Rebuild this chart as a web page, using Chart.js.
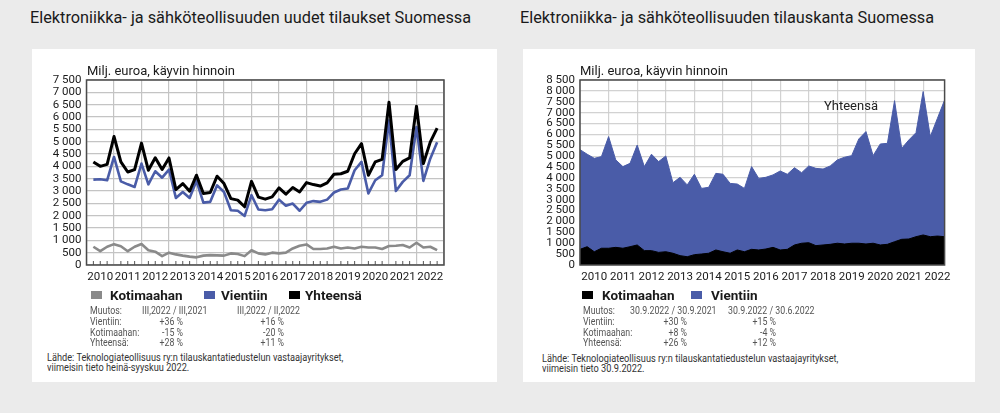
<!DOCTYPE html>
<html>
<head>
<meta charset="utf-8">
<script src="https://cdn.jsdelivr.net/npm/chart.js@4/dist/chart.umd.min.js"></script>
<style>
  body { margin: 0; width: 1000px; height: 413px; background: #ebebeb; overflow: hidden; position: relative; font-family: Roboto, sans-serif; }
  .title { position: absolute; top: 8px; font-size: 16.3px; line-height: 20px; color: #1a1a1a; white-space: nowrap; }
  .panel { position: absolute; top: 49px; height: 333px; background: #fff; }
  canvas { position: absolute; }
  .t { position: absolute; white-space: nowrap; }
  .unit { font-size: 13px; line-height: 14px; color: #1a1a1a; top: 64px; }
  .leg { font-size: 13.5px; line-height: 14px; font-weight: bold; color: #1a1a1a; top: 288px; }
  .box { position: absolute; width: 11px; height: 8px; top: 291px; }
  .tab { font-size: 10px; line-height: 11px; color: #555; transform: scaleX(0.88); transform-origin: 0 0; }
  .r { text-align: right; transform-origin: 100% 0; }
  .src { font-size: 10px; line-height: 10px; color: #333; transform: scaleX(0.92); transform-origin: 0 0; }
</style>
</head>
<body>
<div class="title" style="left:30px">Elektroniikka- ja sähköteollisuuden uudet tilaukset Suomessa</div>
<div class="title" style="left:520px">Elektroniikka- ja sähköteollisuuden tilauskanta Suomessa</div>
<div class="panel" style="left:32px;width:465px"></div>
<div class="panel" style="left:523px;width:452px"></div>

<canvas id="leftChart" width="420" height="234" style="left:36px;top:56px"></canvas>
<canvas id="rightChart" width="434" height="234" style="left:526px;top:56px"></canvas>

<div class="t unit" style="left:87px">Milj. euroa, käyvin hinnoin</div>
<div class="t unit" style="left:580px">Milj. euroa, käyvin hinnoin</div>
<div class="t" style="left:824px;top:99px;font-size:13px;line-height:14px;color:#222">Yhteensä</div>

<!-- left legend -->
<div class="box" style="left:91px;background:#8a8a8a"></div>
<div class="t leg" style="left:110px">Kotimaahan</div>
<div class="box" style="left:204px;background:#4a5ca8"></div>
<div class="t leg" style="left:221px">Vientiin</div>
<div class="box" style="left:289px;background:#000"></div>
<div class="t leg" style="left:305px">Yhteensä</div>

<!-- right legend -->
<div class="box" style="left:582px;background:#000"></div>
<div class="t leg" style="left:602px">Kotimaahan</div>
<div class="box" style="left:691px;background:#4a5ca8"></div>
<div class="t leg" style="left:711px">Vientiin</div>

<div id="tables"></div>

<div class="t src" style="left:47px;top:353px">Lähde: Teknologiateollisuus ry:n tilauskantatiedustelun vastaajayritykset,</div>
<div class="t src" style="left:47px;top:363px">viimeisin tieto heinä-syyskuu 2022.</div>
<div class="t src" style="left:542px;top:354px">Lähde: Teknologiateollisuus ry:n tilauskantatiedustelun vastaajayritykset,</div>
<div class="t src" style="left:542px;top:364px">viimeisin tieto 30.9.2022.</div>

<script>
// tick labels
const years = ['2010', '2011', '2012', '2013', '2014', '2015', '2016', '2017', '2018', '2019', '2020', '2021', '2022'];

// uudet tilaukset, quarters 2010Q1 .. 2022Q3
const orderQuarters = [
    '2010Q1', '2010Q2', '2010Q3', '2010Q4', '2011Q1', '2011Q2', '2011Q3', '2011Q4',
    '2012Q1', '2012Q2', '2012Q3', '2012Q4', '2013Q1', '2013Q2', '2013Q3', '2013Q4',
    '2014Q1', '2014Q2', '2014Q3', '2014Q4', '2015Q1', '2015Q2', '2015Q3', '2015Q4',
    '2016Q1', '2016Q2', '2016Q3', '2016Q4', '2017Q1', '2017Q2', '2017Q3', '2017Q4',
    '2018Q1', '2018Q2', '2018Q3', '2018Q4', '2019Q1', '2019Q2', '2019Q3', '2019Q4',
    '2020Q1', '2020Q2', '2020Q3', '2020Q4', '2021Q1', '2021Q2', '2021Q3', '2021Q4',
    '2022Q1', '2022Q2', '2022Q3'
];
const ordersTotal = [
    4180, 4000, 4080, 5210, 4180, 3770, 3870, 4940, 3840, 4350,
    3870, 4340, 3060, 3300, 2990, 3640, 2900, 2940, 3600, 3300,
    2690, 2630, 2360, 3390, 2750, 2670, 2760, 3125, 2870, 3140,
    2960, 3340, 3260, 3200, 3330, 3680, 3700, 3800, 4510, 4920,
    3640, 4180, 4280, 6600, 3870, 4200, 4340, 6440, 4110, 4980, 5550
];
const ordersExport = [
    3460, 3475, 3435, 4380, 3390, 3270, 3165, 4110, 3270, 3800,
    3540, 3870, 2720, 2960, 2720, 3410, 2530, 2560, 3230, 2960,
    2220, 2200, 1990, 2830, 2250, 2220, 2260, 2650, 2400, 2490,
    2200, 2520, 2590, 2560, 2650, 2940, 3060, 3100, 3840, 4180,
    2900, 3435, 3640, 5860, 3000, 3370, 3640, 5590, 3410, 4310, 4980
];
const ordersDomestic = [
    740, 560, 740, 845, 760, 560, 740, 850, 600, 540,
    360, 500, 430, 380, 340, 310, 380, 400, 390, 380,
    470, 445, 360, 600, 470, 430, 500, 470, 500, 670,
    780, 835, 650, 650, 670, 740, 670, 710, 670, 740,
    710, 710, 650, 770, 780, 810, 710, 900, 710, 740, 600
];

// tilauskanta, quarter ends 31.12.2009 .. 30.9.2022
const backlogQuarters = [
    '2009Q4', '2010Q1', '2010Q2', '2010Q3', '2010Q4', '2011Q1', '2011Q2', '2011Q3', '2011Q4',
    '2012Q1', '2012Q2', '2012Q3', '2012Q4', '2013Q1', '2013Q2', '2013Q3', '2013Q4',
    '2014Q1', '2014Q2', '2014Q3', '2014Q4', '2015Q1', '2015Q2', '2015Q3', '2015Q4',
    '2016Q1', '2016Q2', '2016Q3', '2016Q4', '2017Q1', '2017Q2', '2017Q3', '2017Q4',
    '2018Q1', '2018Q2', '2018Q3', '2018Q4', '2019Q1', '2019Q2', '2019Q3', '2019Q4',
    '2020Q1', '2020Q2', '2020Q3', '2020Q4', '2021Q1', '2021Q2', '2021Q3', '2021Q4',
    '2022Q1', '2022Q2', '2022Q3'
];
const backlogTotal = [
    5300, 5090, 4900, 4980, 5900, 4830, 4520, 4670, 5510, 4520,
    5090, 4750, 5010, 3780, 4030, 3680, 4170, 3520, 3570, 4210,
    4170, 3750, 3720, 3520, 4520, 3980, 4030, 4140, 4320, 4170,
    4470, 4240, 4550, 4440, 4410, 4550, 4830, 4950, 5025, 5790,
    6130, 5025, 5560, 5590, 7550, 5360, 5745, 6080, 7970, 5900,
    6740, 7580
];
const backlogDomestic = [
    720, 840, 610, 770, 770, 810, 770, 840, 920, 660,
    660, 580, 610, 540, 430, 380, 475, 505, 540, 690,
    610, 540, 690, 610, 720, 690, 735, 810, 690, 720,
    920, 1000, 1025, 890, 920, 950, 1000, 965, 1000, 1000,
    965, 1000, 920, 950, 1070, 1180, 1195, 1300, 1380, 1300,
    1330, 1300
];

// muutos-taulukot
const tableRows = ['Muutos:', 'Vientiin:', 'Kotimaahan:', 'Yhteensä:'];
const leftHeads = ['III,2022 / III,2021', 'III,2022 / II,2022'];
const leftCol1 = ['+36 %', '-15 %', '+28 %'];
const leftCol2 = ['+16 %', '-20 %', '+11 %'];
const rightHeads = ['30.9.2022 / 30.9.2021', '30.9.2022 / 30.6.2022'];
const rightCol1 = ['+30 %', '+8 %', '+26 %'];
const rightCol2 = ['+15 %', '-4 %', '+12 %'];

const BLUE = '#4a5ca8';
const GRAY = '#8a8a8a';
const tickFont = {family: 'Roboto, sans-serif', size: 11.5};

function qx(q) {
    return parseInt(q.slice(0, 4)) + parseInt(q.slice(5)) / 4;
}
function pts(quarters, values) {
    return quarters.map((q, i) => ({x: qx(q), y: values[i]}));
}
function fmt(v) {
    if (v >= 1000) return Math.floor(v / 1000) + ' ' + String(v % 1000).padStart(3, '0');
    return String(v);
}

const frame = {
    id: 'frame',
    afterDraw(chart, args, opts) {
        const a = chart.chartArea;
        const ctx = chart.ctx;
        ctx.save();
        if (opts.minor) {
            ctx.strokeStyle = '#555';
            ctx.lineWidth = 1;
            chart.scales.x.ticks.forEach(t => {
                if (t.value % 1 === 0) return;
                const px = chart.scales.x.getPixelForValue(t.value);
                ctx.beginPath();
                ctx.moveTo(px, a.bottom);
                ctx.lineTo(px, a.bottom - 4);
                ctx.stroke();
            });
        }
        ctx.strokeStyle = '#4a4a4a';
        ctx.lineWidth = 1.5;
        ctx.strokeRect(a.left, a.top, a.right - a.left, a.bottom - a.top);
        ctx.restore();
    }
};

function makeScales(xmax, ymax, yWidth, gridColor, z) {
    return {
        x: {
            type: 'linear', min: 2010, max: xmax, z: z,
            afterFit: s => { s.height = 25; },
            border: {display: false},
            grid: {
                drawTicks: false,
                color: c => (c.tick && c.tick.value % 1 === 0) ? gridColor : 'rgba(0,0,0,0)',
                lineWidth: 1.2
            },
            ticks: {
                stepSize: 0.25, maxTicksLimit: 200, autoSkip: false, maxRotation: 0,
                padding: 5, color: '#1a1a1a', font: tickFont,
                callback: v => (v % 1 === 0.5) ? years[Math.floor(v) - 2010] : ''
            }
        },
        y: {
            min: 0, max: ymax, z: z,
            afterFit: s => { s.width = yWidth; },
            border: {display: false},
            grid: {drawTicks: false, color: gridColor, lineWidth: 1.2},
            ticks: {
                stepSize: 500, autoSkip: false, padding: 5, color: '#1a1a1a', font: tickFont,
                callback: v => fmt(v)
            }
        }
    };
}

new Chart('leftChart', {
    type: 'line',
    data: {
        datasets: [{
            label: 'Yhteensä',
            data: pts(orderQuarters, ordersTotal),
            borderColor: '#000',
            borderWidth: 3
        }, {
            label: 'Vientiin',
            data: pts(orderQuarters, ordersExport),
            borderColor: BLUE,
            borderWidth: 2.6
        }, {
            label: 'Kotimaahan',
            data: pts(orderQuarters, ordersDomestic),
            borderColor: GRAY,
            borderWidth: 2.6
        }]
    },
    options: {
        responsive: false,
        animation: false,
        layout: {padding: {top: 24, right: 12, left: 0, bottom: 0}},
        elements: {point: {radius: 0}, line: {tension: 0, fill: false, borderJoinStyle: 'round'}},
        plugins: {legend: {display: false}, tooltip: {enabled: false}, frame: {minor: true}},
        scales: makeScales(2023, 7500, 50.5, '#c4c4c4', 0)
    },
    plugins: [frame]
});

new Chart('rightChart', {
    type: 'line',
    data: {
        datasets: [{
            label: 'Kotimaahan',
            data: pts(backlogQuarters, backlogDomestic),
            borderColor: '#000',
            backgroundColor: '#000',
            borderWidth: 1,
            fill: 'origin'
        }, {
            label: 'Yhteensä',
            data: pts(backlogQuarters, backlogTotal),
            borderColor: BLUE,
            backgroundColor: BLUE,
            borderWidth: 1,
            fill: 'origin'
        }]
    },
    options: {
        responsive: false,
        animation: false,
        layout: {padding: {top: 24, right: 15.4, left: 0, bottom: 0}},
        elements: {point: {radius: 0}, line: {tension: 0, borderJoinStyle: 'round'}},
        plugins: {legend: {display: false}, tooltip: {enabled: false}, frame: {minor: false}},
        scales: makeScales(2022.75, 8500, 54, 'rgba(205,205,205,0.9)', 1)
    },
    plugins: [frame]
});

// muutos tables as html text
function addTable(x0, heads, h1, h2, r1, r2, col1, col2) {
    const box = document.getElementById('tables');
    const rowY = [305, 316, 327, 337];
    let html = '';
    tableRows.forEach((r, i) => {
        html += `<div class="t tab" style="left:${x0}px;top:${rowY[i]}px">${r}</div>`;
    });
    html += `<div class="t tab" style="left:${h1}px;top:${rowY[0]}px">${heads[0]}</div>`;
    html += `<div class="t tab" style="left:${h2}px;top:${rowY[0]}px">${heads[1]}</div>`;
    col1.forEach((v, i) => {
        html += `<div class="t tab r" style="left:${r1 - 60}px;width:60px;top:${rowY[i + 1]}px">${v}</div>`;
    });
    col2.forEach((v, i) => {
        html += `<div class="t tab r" style="left:${r2 - 60}px;width:60px;top:${rowY[i + 1]}px">${v}</div>`;
    });
    box.innerHTML += html;
}
addTable(90, leftHeads, 142, 237, 183, 284, leftCol1, leftCol2);
addTable(583, rightHeads, 630, 728, 687, 776, rightCol1, rightCol2);
</script>
</body>
</html>
